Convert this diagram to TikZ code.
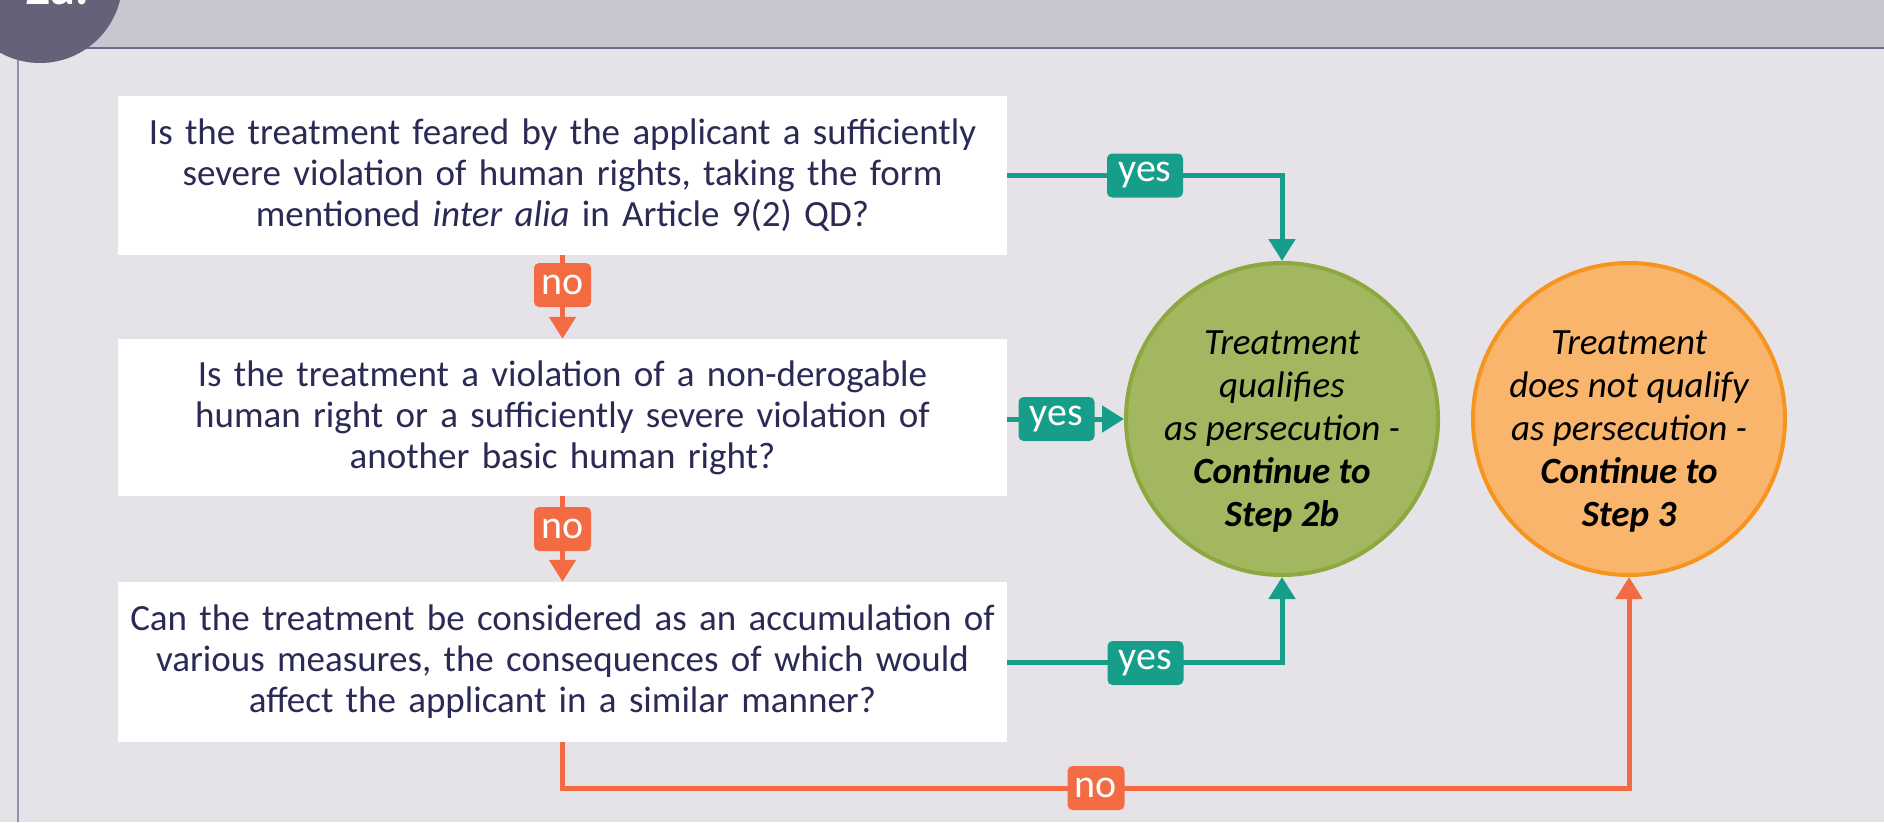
\documentclass[tikz,border=0pt]{standalone}
\usepackage{fontspec}
\setmainfont{Carlito}
\usetikzlibrary{arrows.meta}
\definecolor{bandc}{HTML}{C9C6D1}
\definecolor{bgc}{HTML}{E5E3E8}
\definecolor{rulec}{HTML}{6E6B8A}
\definecolor{darkc}{HTML}{636279}
\definecolor{framec}{HTML}{928FA8}
\definecolor{navy}{HTML}{2B2A55}
\definecolor{tealc}{HTML}{179E8B}
\definecolor{redc}{HTML}{F26B43}
\definecolor{greenf}{HTML}{A3B760}
\definecolor{greend}{HTML}{8DA83F}
\definecolor{orangef}{HTML}{F9B56B}
\definecolor{oranged}{HTML}{F7941D}
\tikzset{
  qbox/.style={fill=white, minimum width=889pt, text width=880pt, align=center,
    text=navy, font=\fontsize{37}{41}\selectfont, inner sep=0pt},
  endcirc/.style={circle, line width=4pt, minimum size=312pt, outer sep=2pt, inner sep=0pt},
  ctext/.style={align=center, text=black, font=\fontsize{37}{43}\selectfont\itshape, inner sep=0pt},
  lab/.style={rounded corners=5pt, text=white, font=\fontsize{40}{40}\selectfont,
    minimum height=44pt, inner sep=0pt},
  yeslab/.style={lab, fill=tealc, minimum width=76pt},
  nolab/.style={lab, fill=redc, minimum width=57pt},
  tline/.style={draw=tealc, line width=5pt, -{Triangle[width=26pt,length=22pt]}},
  rline/.style={draw=redc, line width=5pt, -{Triangle[width=26pt,length=22pt]}},
}
\begin{document}
\begin{tikzpicture}[x=1pt,y=-1pt]
\useasboundingbox (0,0) rectangle (1884,822);
\clip (0,0) rectangle (1884,822);
\fill[bgc] (0,0) rectangle (1884,822);
\fill[bandc] (0,0) rectangle (1884,48);
\draw[rulec, line width=2pt] (0,48) -- (1884,48);
\draw[framec, line width=2pt] (18,48) -- (18,822);
\fill[darkc] (40,-19.3) circle[radius=82.3];
\node[font=\bfseries\fontsize{50}{50}\selectfont, text=white, anchor=base west, inner sep=0pt] (num) at (25,4) {2a.};

\node[qbox, minimum height=159pt] (q1) at (562.5,175.5) {Is the treatment feared by the applicant a sufficiently\\ severe violation of human rights, taking the form\\ mentioned \textit{inter alia} in Article 9(2) QD?};
\node[qbox, minimum height=157pt] (q2) at (562.5,417.5) {Is the treatment a violation of a non-derogable\\ human right or a sufficiently severe violation of\\ another basic human right?};
\node[qbox, minimum height=160pt] (q3) at (562.5,662) {Can the treatment be considered as an accumulation of\\ various measures, the consequences of which would\\ affect the applicant in a similar manner?};

\node[endcirc, fill=greenf, draw=greend] (g) at (1282,419) {};
\node[endcirc, fill=orangef, draw=oranged] (o) at (1629,419) {};
\node[ctext] (gt) at (1282,432) {Treatment\\ qualifies\\ as persecution -\\ \textbf{Continue to}\\ \textbf{Step 2b}};
\node[ctext] (ot) at (1629,432) {Treatment\\ does not qualify\\ as persecution -\\ \textbf{Continue to}\\ \textbf{Step 3}};

\coordinate (nb) at (562.5,788);
\draw[tline] (q1.east) -- (q1.east -| g.north) -- (g.north);
\draw[tline] (q2.east |- g.west) -- (g.west);
\draw[tline] (q3.east) -- (q3.east -| g.south) -- (g.south);
\draw[rline] (q1.south) -- (q2.north);
\draw[rline] (q2.south) -- (q3.north);
\draw[rline] (q3.south) -- (nb) -| (o.south);

\node[nolab] (n1) at (562.5,285) {no};
\node[nolab] (n2) at (562.5,529) {no};
\node[nolab] (n3) at (1096,788) {no};
\node[yeslab] (y1) at (1145,175.5) {yes};
\node[yeslab] (y2) at (1056.5,419) {yes};
\node[yeslab] (y3) at (1145.5,663) {yes};
\end{tikzpicture}
\end{document}
